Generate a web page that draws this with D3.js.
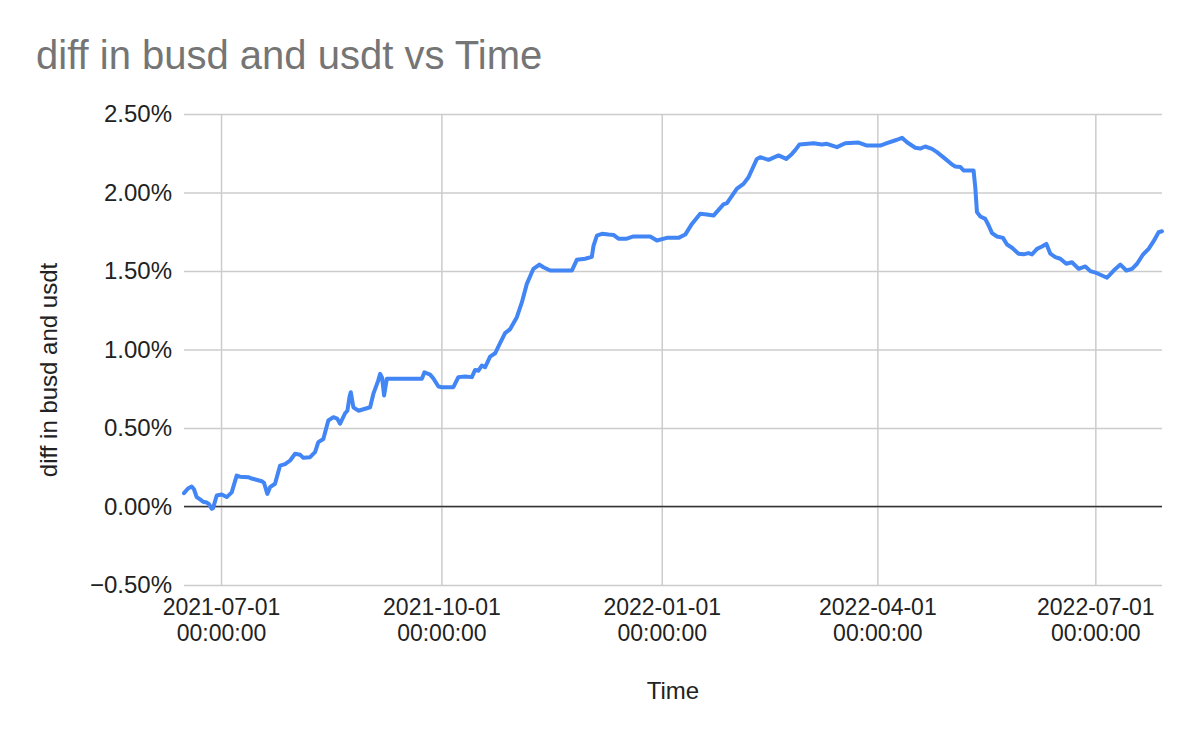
<!DOCTYPE html>
<html>
<head>
<meta charset="utf-8">
<script src="https://cdn.jsdelivr.net/npm/d3@7"></script>
<style>
  html, body { margin: 0; padding: 0; background: #fff; }
  svg { display: block; font-family: Arial, "Liberation Sans", sans-serif; }
</style>
</head>
<body>
<svg id="chart" width="1200" height="742"></svg>
<script>
// ---- data ----
const chartTitle = "diff in busd and usdt vs Time";
const xTitle = "Time";
const yTitle = "diff in busd and usdt";

const times = [
  "2021-06-15 13:00","2021-06-17 05:00","2021-06-18 18:00","2021-06-19 17:00","2021-06-20 20:00",
  "2021-06-22 06:00","2021-06-23 12:00","2021-06-25 01:00","2021-06-26 00:00","2021-06-27 03:00",
  "2021-06-27 16:00","2021-06-29 05:00","2021-07-01 07:00","2021-07-03 09:00","2021-07-05 11:00",
  "2021-07-07 13:00","2021-07-08 22:00","2021-07-12 10:00","2021-07-13 20:00","2021-07-18 00:00",
  "2021-07-18 23:00","2021-07-20 08:00","2021-07-21 11:00","2021-07-23 13:00","2021-07-25 15:00",
  "2021-07-27 18:00","2021-07-29 20:00","2021-07-31 22:00","2021-08-03 00:00","2021-08-04 09:00",
  "2021-08-07 04:00","2021-08-09 06:00","2021-08-10 15:00","2021-08-12 17:00","2021-08-14 19:00",
  "2021-08-16 22:00","2021-08-18 11:00","2021-08-19 17:00","2021-08-21 19:00","2021-08-22 18:00",
  "2021-08-23 16:00","2021-08-24 04:00","2021-08-25 06:00","2021-08-27 08:00","2021-09-01 06:00",
  "2021-09-02 14:00","2021-09-04 14:00","2021-09-05 10:00","2021-09-06 06:00","2021-09-07 02:00",
  "2021-09-08 05:00","2021-09-22 20:00","2021-09-23 22:00","2021-09-26 07:00","2021-09-27 16:00",
  "2021-09-29 18:00","2021-10-01 04:00","2021-10-06 00:00","2021-10-08 02:00","2021-10-10 22:00",
  "2021-10-13 17:00","2021-10-15 02:00","2021-10-16 11:00","2021-10-17 21:00","2021-10-19 06:00",
  "2021-10-21 08:00","2021-10-23 10:00","2021-10-25 12:00","2021-10-27 14:00","2021-10-29 17:00",
  "2021-11-01 12:00","2021-11-03 14:00","2021-11-05 16:00","2021-11-08 10:00","2021-11-10 22:00",
  "2021-11-12 14:00","2021-11-15 10:00","2021-11-24 11:00","2021-11-26 13:00","2021-11-30 00:00",
  "2021-12-02 19:00","2021-12-03 12:00","2021-12-04 22:00","2021-12-07 00:00","2021-12-09 18:00",
  "2021-12-11 20:00","2021-12-13 22:00","2021-12-17 10:00","2021-12-20 04:00","2021-12-27 04:00",
  "2021-12-29 23:00","2022-01-03 03:00","2022-01-08 00:00","2022-01-10 19:00","2022-01-13 14:00",
  "2022-01-17 01:00","2022-01-19 20:00","2022-01-22 14:00","2022-01-26 18:00","2022-01-28 05:00",
  "2022-02-01 09:00","2022-02-04 03:00","2022-02-06 05:00","2022-02-09 17:00","2022-02-11 02:00",
  "2022-02-14 14:00","2022-02-18 18:00","2022-02-21 23:00","2022-02-24 08:00","2022-02-25 17:00",
  "2022-02-27 12:00","2022-03-05 09:00","2022-03-08 21:00","2022-03-10 23:00","2022-03-15 03:00",
  "2022-03-18 14:00","2022-03-24 04:00","2022-03-27 16:00","2022-04-02 05:00","2022-04-05 00:00",
  "2022-04-09 05:00","2022-04-11 07:00","2022-04-13 09:00","2022-04-16 20:00","2022-04-18 22:00",
  "2022-04-21 00:00","2022-04-23 19:00","2022-04-25 21:00","2022-04-29 09:00","2022-05-02 04:00",
  "2022-05-03 13:00","2022-05-05 15:00","2022-05-07 00:00","2022-05-11 04:00","2022-05-11 21:00",
  "2022-05-12 14:00","2022-05-14 00:00","2022-05-16 01:00","2022-05-17 11:00","2022-05-18 21:00",
  "2022-05-20 23:00","2022-05-23 11:00","2022-05-25 03:00","2022-05-27 05:00","2022-05-29 23:00",
  "2022-06-01 01:00","2022-06-03 03:00","2022-06-04 13:00","2022-06-06 16:00","2022-06-08 18:00",
  "2022-06-10 13:00","2022-06-12 05:00","2022-06-14 07:00","2022-06-16 09:00","2022-06-18 21:00",
  "2022-06-21 06:00","2022-06-24 01:00","2022-06-26 20:00","2022-06-28 22:00","2022-07-01 17:00",
  "2022-07-05 21:00","2022-07-08 16:00","2022-07-11 11:00","2022-07-13 23:00","2022-07-16 08:00",
  "2022-07-18 10:00","2022-07-20 22:00","2022-07-23 06:00","2022-07-25 08:00","2022-07-27 10:00",
  "2022-07-28 20:00"
];

// diff in busd and usdt, in percent
const diffPct = [
  0.085,0.115,0.127,0.110,0.060,
  0.045,0.030,0.025,0.015,-0.015,
  -0.010,0.070,0.076,0.060,0.090,
  0.197,0.190,0.187,0.178,0.161,
  0.150,0.080,0.123,0.145,0.260,
  0.270,0.293,0.336,0.330,0.310,
  0.314,0.346,0.410,0.430,0.548,
  0.569,0.560,0.527,0.594,0.610,
  0.700,0.728,0.632,0.610,0.632,
  0.717,0.800,0.845,0.820,0.707,
  0.813,0.813,0.855,0.840,0.815,
  0.764,0.760,0.760,0.824,0.828,
  0.824,0.870,0.865,0.898,0.887,
  0.955,0.976,1.040,1.104,1.130,
  1.206,1.300,1.418,1.514,1.541,
  1.524,1.503,1.503,1.571,1.578,
  1.590,1.660,1.726,1.737,1.732,
  1.730,1.706,1.706,1.720,1.720,
  1.694,1.711,1.711,1.732,1.800,
  1.864,1.860,1.853,1.924,1.932,
  2.024,2.055,2.097,2.214,2.225,
  2.208,2.236,2.214,2.246,2.270,
  2.306,2.314,2.306,2.310,2.289,
  2.314,2.318,2.299,2.299,2.314,
  2.336,2.348,2.320,2.285,2.280,
  2.293,2.278,2.257,2.214,2.178,
  2.166,2.163,2.140,2.140,2.034,
  1.875,1.847,1.832,1.790,1.741,
  1.720,1.711,1.669,1.648,1.610,
  1.606,1.614,1.606,1.641,1.656,
  1.673,1.610,1.588,1.578,1.546,
  1.556,1.514,1.529,1.499,1.486,
  1.457,1.503,1.541,1.503,1.514,
  1.546,1.605,1.641,1.690,1.747,
  1.753
];

const yTicks = [-0.005, 0, 0.005, 0.01, 0.015, 0.02, 0.025];
const xTickDates = ["2021-07-01","2021-10-01","2022-01-01","2022-04-01","2022-07-01"];

// ---- build ----
const parseTime = d3.timeParse("%Y-%m-%d %H:%M");
const parseDay = d3.timeParse("%Y-%m-%d");
const data = times.map((t, i) => ({ t: parseTime(t), v: diffPct[i] / 100 }));

const margin = { left: 184, right: 1162, top: 114, bottom: 585 };
const svg = d3.select("#chart");

const x = d3.scaleTime()
  .domain(d3.extent(data, d => d.t))
  .range([margin.left, margin.right]);
const y = d3.scaleLinear()
  .domain([-0.005, 0.025])
  .range([margin.bottom, margin.top]);

const labelColor = "#222222";
const fs = 24;
const ff = "Arial, 'Liberation Sans', sans-serif";

// horizontal gridlines + y labels
const yAxis = d3.axisLeft(y).tickValues(yTicks)
  .tickSize(-(margin.right - margin.left)).tickPadding(12)
  .tickFormat(d3.format(".2%"));
const gy = svg.append("g").attr("transform", `translate(${margin.left},0)`).call(yAxis);
gy.select(".domain").remove();
gy.selectAll(".tick line").attr("stroke", "#cccccc").attr("stroke-width", 1.5);
gy.selectAll(".tick text").attr("fill", labelColor).attr("font-size", fs)
  .attr("font-family", ff).attr("x", -12);

// vertical gridlines + x labels (two lines, as separate texts)
const xAxis = d3.axisBottom(x).tickValues(xTickDates.map(parseDay))
  .tickSize(-(margin.bottom - margin.top)).tickFormat("");
const gx = svg.append("g").attr("transform", `translate(0,${margin.bottom})`).call(xAxis);
gx.select(".domain").remove();
gx.selectAll(".tick line").attr("stroke", "#cccccc").attr("stroke-width", 1.5);
const fmtDate = d3.timeFormat("%Y-%m-%d");
const fmtTime = d3.timeFormat("%H:%M:%S");
gx.selectAll(".tick").each(function(d) {
  const g = d3.select(this);
  g.append("text").attr("x", 0).attr("y", 30)
    .attr("fill", labelColor).attr("font-size", 23).attr("font-family", ff)
    .attr("text-anchor", "middle").text(fmtDate(d));
  g.append("text").attr("x", 0).attr("y", 56)
    .attr("fill", labelColor).attr("font-size", 23).attr("font-family", ff)
    .attr("text-anchor", "middle").text(fmtTime(d));
});

// zero baseline
svg.append("line")
  .attr("x1", margin.left).attr("x2", margin.right)
  .attr("y1", y(0)).attr("y2", y(0))
  .attr("stroke", "#333333").attr("stroke-width", 1.5);

// line
const line = d3.line().x(d => x(d.t)).y(d => y(d.v));
svg.append("path").datum(data)
  .attr("d", line)
  .attr("fill", "none")
  .attr("stroke", "#4285f4")
  .attr("stroke-width", 4)
  .attr("stroke-linejoin", "round")
  .attr("stroke-linecap", "round");

// titles
svg.append("text").attr("x", 36).attr("y", 69)
  .attr("font-size", 40).attr("font-family", ff).attr("fill", "#757575").text(chartTitle);
svg.append("text").attr("x", 673).attr("y", 699)
  .attr("text-anchor", "middle").attr("font-size", fs).attr("font-family", ff)
  .attr("fill", labelColor).text(xTitle);
svg.append("text")
  .attr("transform", "translate(57,370) rotate(-90)")
  .attr("text-anchor", "middle").attr("font-size", fs).attr("font-family", ff)
  .attr("fill", labelColor).text(yTitle);
</script>
</body>
</html>
